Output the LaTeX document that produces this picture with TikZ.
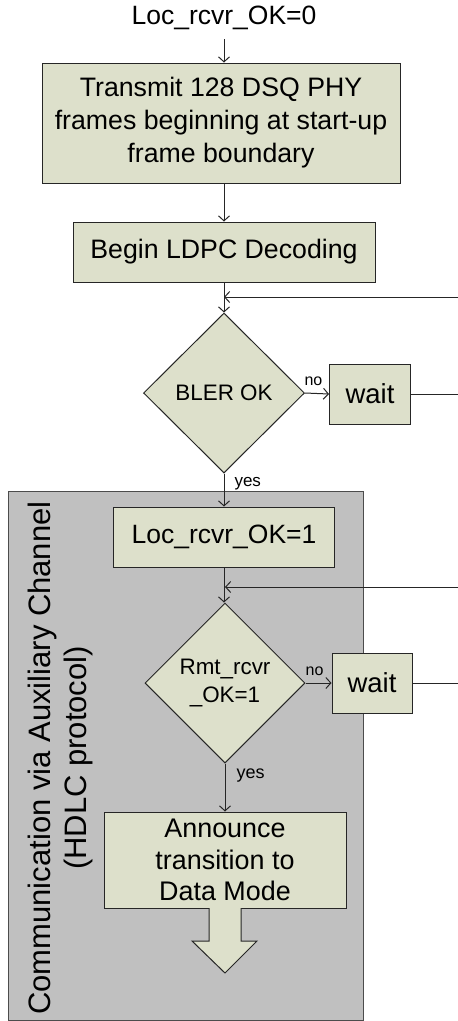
\documentclass[tikz,border=0pt]{standalone}
\usepackage{fontspec}
\setmainfont{Liberation Sans}
\usetikzlibrary{shapes.geometric,arrows.meta}
\definecolor{boxfill}{HTML}{DDE0CB}
\definecolor{groupfill}{HTML}{C0C0C0}
\newcommand{\uscore}{\symbol{95}}
\tikzset{
	stepbox/.style={draw=black!85, fill=boxfill, line width=1pt, inner sep=0pt, align=center},
	decision/.style={diamond, aspect=1, draw=black!85, fill=boxfill, line width=1pt, inner sep=0pt, align=center, font=\fontsize{22.4}{28}\selectfont},
	flow/.style={->, line width=1pt, draw=black!85},
	lbl/.style={font=\fontsize{16}{18}\selectfont, inner sep=1pt}
}
\begin{document}
\begin{tikzpicture}[x=1pt, y=-1pt, >={Straight Barb[length=5pt,width=11pt]}]
		\useasboundingbox (0,0) rectangle (458,1021);
		\coordinate (edge) at (458,0);

		% auxiliary channel part
		\draw[fill=groupfill, draw=black!70, line width=1pt] (8,491) rectangle (363,1020);
		\node[rotate=90, align=center, font=\fontsize{31}{36}\selectfont] (aux) at (60,758) {Communication via Auxiliary Channel\\(HDLC protocol)};

		\node[font=\fontsize{26.5}{30}\selectfont] (start) at (224,18) {Loc\uscore rcvr\uscore OK=0};
		\node[stepbox, minimum width=358pt, minimum height=120pt, font=\fontsize{26.7}{33}\selectfont] (tx) at (221,123) {Transmit 128 DSQ PHY\\frames beginning at start-up\\frame boundary};
		\node[stepbox, minimum width=302pt, minimum height=60pt, font=\fontsize{26.7}{33}\selectfont] (ldpc) at (224,252) {Begin LDPC Decoding};
		\node[decision, minimum width=161pt, minimum height=160pt] (bler) at (224,393) {BLER OK};
		\node[stepbox, minimum width=81pt, minimum height=60pt, font=\fontsize{27.5}{33}\selectfont] (wait1) at (370,394) {wait};
		\node[stepbox, minimum width=221pt, minimum height=60pt, font=\fontsize{26.5}{30}\selectfont] (loc) at (224,537) {Loc\uscore rcvr\uscore OK=1};
		\node[decision, minimum width=160pt, minimum height=160pt] (rmt) at (225,683) {Rmt\uscore rcvr\\\uscore OK=1};
		\node[stepbox, minimum width=80pt, minimum height=60pt, font=\fontsize{27.5}{33}\selectfont] (wait2) at (372,683) {wait};
		\node[stepbox, minimum width=242pt, minimum height=96pt, font=\fontsize{26.9}{31.7}\selectfont] (announce) at (225,860) {Announce\\transition to\\Data Mode};

		% block arrow out of the last box
		\fill[boxfill] (209,906) -- (209,941) -- (192,941) -- (225,973) -- (257,941) -- (241,941) -- (241,906) -- cycle;
		\draw[draw=black!85, line width=1pt] (209,908) -- (209,941) -- (192,941) -- (225,973) -- (257,941) -- (241,941) -- (241,908);

		\draw[flow, shorten <=6pt] (start) -- (start |- tx.north);
		\draw[flow] (ldpc |- tx.south) -- (ldpc.north);
		\draw[flow] (ldpc.south) -- (bler.north);
		\coordinate (fb1) at (458,297);
		\draw[flow] (fb1) -- (fb1 -| bler.north);
		\draw[flow] (bler.east) -- node[lbl, above, pos=0.35, yshift=6pt] (no1) {no} (wait1.west);
		\draw[line width=1pt, draw=black!85] (wait1.east) -- (wait1.east -| edge);
		\draw[flow] (bler.south) -- node[lbl, right, pos=0.3, xshift=9pt, font=\fontsize{17}{19}\selectfont] (yes1) {yes} (bler.south |- loc.north);
		\draw[flow] (loc.south) -- (loc.south |- rmt.north);
		\coordinate (fb2) at (458,587);
		\draw[flow] (fb2) -- (fb2 -| rmt.north);
		\draw[flow] (rmt.east) -- node[lbl, above, pos=0.35, yshift=6pt] (no2) {no} (wait2.west);
		\draw[line width=1pt, draw=black!85] (wait2.east) -- (wait2.east -| edge);
		\draw[flow] (rmt.south) -- node[lbl, right, pos=0.3, xshift=10pt, yshift=2pt, font=\fontsize{18}{20}\selectfont] (yes2) {yes} (announce.north);
	\end{tikzpicture}
\end{document}
